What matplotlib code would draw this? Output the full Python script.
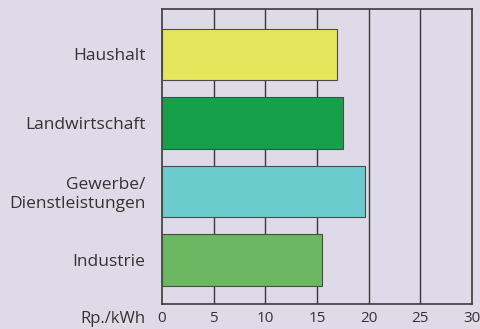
import matplotlib.pyplot as plt

# Strompreise nach Verbrauchergruppe
categories = ["Haushalt", "Landwirtschaft", "Gewerbe/\nDienstleistungen", "Industrie"]
prices = [16.9, 17.5, 19.6, 15.5]
colors = ["#e6e65c", "#16a04a", "#6ccbcc", "#6cb862"]
ticks = [0, 5, 10, 15, 20, 25, 30]

bg = "#dfdae8"
plt.rcParams['font.family'] = ['Open Sans', 'DejaVu Sans']

fig = plt.figure(figsize=(4.81, 3.29), dpi=100, facecolor=bg)
ax = fig.add_axes([0.3368, 0.076, 0.6445, 0.8967], facecolor=bg)

ypos = list(range(len(categories)))
ax.barh(ypos, prices, height=0.75, color=colors, edgecolor="#4a4a4a",
        linewidth=0.8, zorder=3)

for t in ticks[1:-1]:
    ax.axvline(t, color="#3a3a3a", linewidth=1.0, zorder=1)

ax.set_xlim(0, 30)
ax.set_ylim(3.64, -0.66)
ax.set_xticks(ticks)
ax.set_xticklabels([str(t) for t in ticks], fontsize=11, color="#333333")
ax.set_yticks(ypos)
ax.set_yticklabels(categories, fontsize=12.5, color="#333333", linespacing=1.2)
ax.tick_params(length=0)
ax.tick_params(axis="x", pad=5)
ax.tick_params(axis="y", pad=12)
for s in ax.spines.values():
    s.set_color("#3a3a3a")
    s.set_linewidth(1.2)

fig.text(145 / 481, 1 - 319 / 329, "Rp./kWh", ha="right", va="center",
         fontsize=12, color="#333333")

fig.savefig("out.png", dpi=100, facecolor=bg)
